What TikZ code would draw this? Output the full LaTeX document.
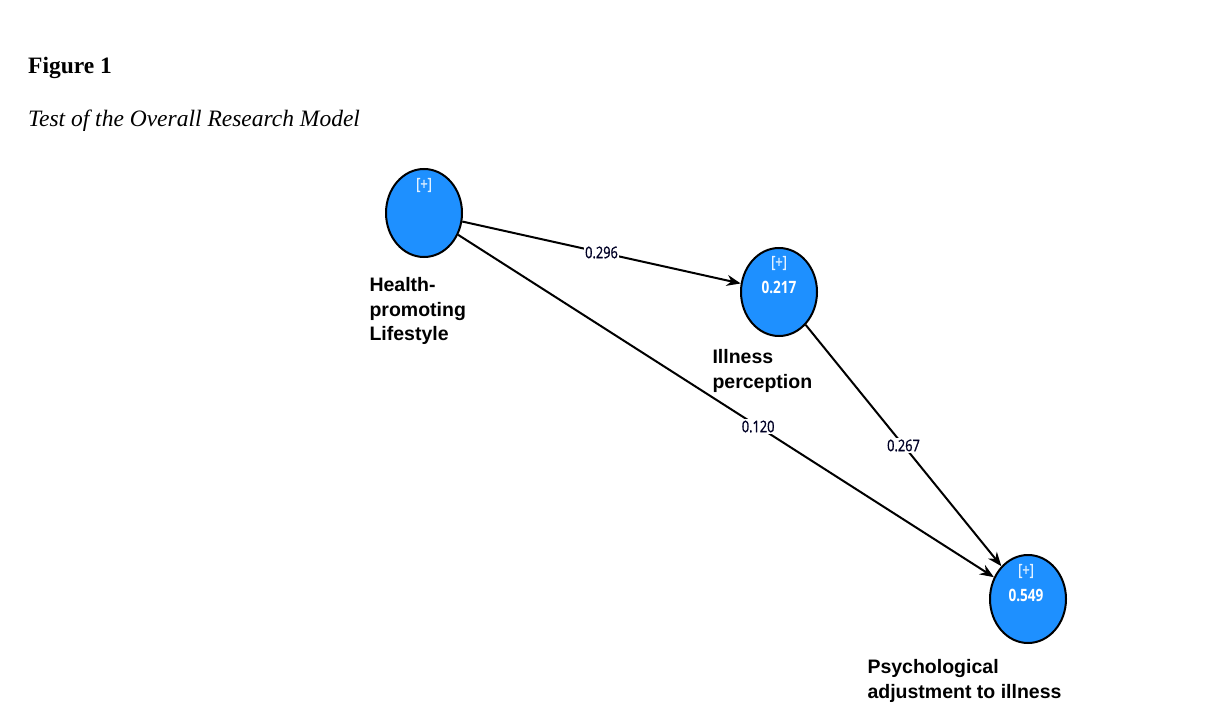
\documentclass[tikz,border=0pt]{standalone}
\usepackage{fontspec}
\setmainfont{Liberation Serif}
\setsansfont{Liberation Sans}
\newfontfamily\uifont{Open Sans}
\newfontfamily\uicond[FakeStretch=0.8]{Open Sans}
\newfontfamily\uicondmed[FakeStretch=0.8,FakeBold=1.2]{Open Sans}
\usetikzlibrary{shapes.geometric,arrows.meta}
\definecolor{lvblue}{RGB}{30,144,255}
\begin{document}
\begin{tikzpicture}[x=1pt,y=-1pt,
  latent/.style={ellipse,draw=black,line width=2pt,fill=lvblue,
    minimum width=76pt,minimum height=88pt,inner sep=0pt},
  plus/.style={text=white!88!lvblue,font=\uicondmed\fontsize{16}{17}\selectfont},
  rsq/.style={text=white,font=\uicond\bfseries\fontsize{17}{18}\selectfont},
  conlabel/.style={anchor=west,align=left,font=\sffamily\bfseries\fontsize{19.5}{24.5}\selectfont},
  path/.style={line width=2pt,-{Stealth[length=14pt,width=11pt]}},
  coef/.style={fill=white,inner sep=1.5pt,text=black!85!blue,font=\uicondmed\fontsize{16}{17}\selectfont}]
\useasboundingbox (0,0) rectangle (1210,719);
% caption
\node[anchor=base west,inner sep=0pt,font=\bfseries\fontsize{23.5}{28}\selectfont] (fig) at (28,74) {Figure 1};
\node[anchor=base west,inner sep=0pt,font=\itshape\fontsize{23.5}{28}\selectfont] (title) at (28,127) {Test of the Overall Research Model};
% latent variables
\node[latent] (hpl) at (424,213) {};
\node[latent] (ip) at (779,292) {};
\node[latent] (pai) at (1028,599) {};
\node[plus] (hplp) at (424,185) {[+]};
\node[plus] (ipp) at (779,263) {[+]};
\node[rsq] (ipr) at (779,287) {0.217};
\node[plus] (paip) at (1026,571) {[+]};
\node[rsq] (pair) at (1026,595) {0.549};
% construct names
\node[conlabel] (hpln) at (366,311) {Health-\\promoting\\Lifestyle};
\node[conlabel] (ipn) at (709,371) {Illness\\perception};
\node[conlabel] (pain) at (864,681) {Psychological\\adjustment to illness};
% structural paths
\draw[path] (hpl) -- node[coef,pos=0.5] {0.296} (ip);
\draw[path] (hpl) -- node[coef,pos=0.56] {0.120} (pai);
\draw[path] (ip) -- node[coef,pos=0.5] {0.267} (pai);
\end{tikzpicture}
\end{document}
